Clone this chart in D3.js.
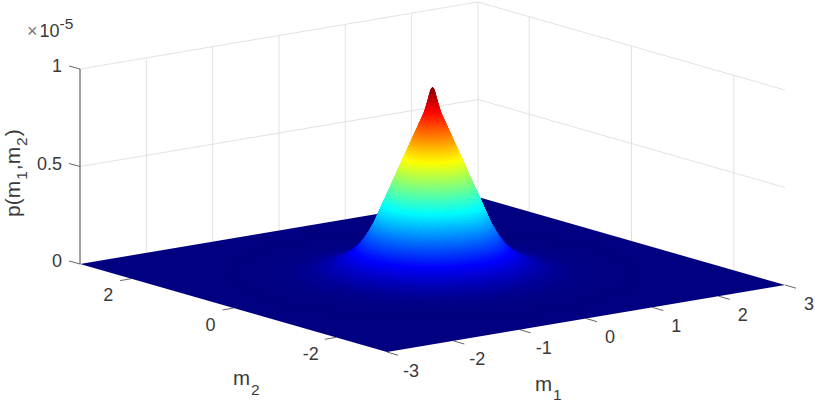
<!DOCTYPE html>
<html><head><meta charset="utf-8">
<script src="https://cdnjs.cloudflare.com/ajax/libs/d3/7.8.5/d3.min.js"></script>
<style>
html,body{margin:0;padding:0;background:#fff;overflow:hidden}
#wrap{position:relative;width:815px;height:402px}
svg,canvas{position:absolute;left:0;top:0}
text{font-family:"Liberation Sans",Arial,sans-serif;fill:#3a3a3a}
</style></head><body><div id="wrap"></div>
<script>
// Ticks
const m1Ticks = [-3,-2,-1,0,1,2,3];
const m2Ticks = [-2,0,2];
const zTicks = [0,0.5,1];
const zTickLabels = ["0","0.5","1"];
const m1Domain = [-3,3];
const m2Domain = [-3,3];
// The surface is a peak of revolution: height (in units of 1e-5) read off the
// silhouette and the colour bands at these distances from the origin.
const radii   = [0,0.02,0.035,0.06,0.094,0.16,0.228,0.338,0.467,0.58,0.692,0.75,0.806,0.86,0.92,0.985,1.08,1.2,1.35,1.5,1.7,2.0,2.5,4.5];
const heights = [0.96,0.95,0.925,0.885,0.835,0.772,0.708,0.604,0.481,0.374,0.267,0.222,0.185,0.155,0.128,0.103,0.075,0.05,0.03,0.017,0.008,0.002,0,0];
const jetStops = [0,0.125,0.375,0.625,0.875,1];
const jetColors = ["#000080","#0000ff","#00ffff","#ffff00","#ff0000","#800000"];

const W=815,H=402;
const origin=[387,352];
const sxM1=d3.scaleLinear().domain(m1Domain).range([0,398]);
const syM1=d3.scaleLinear().domain(m1Domain).range([0,-67]);
const sxM2=d3.scaleLinear().domain(m2Domain).range([0,-307]);
const syM2=d3.scaleLinear().domain(m2Domain).range([0,-88]);
const syZ=d3.scaleLinear().domain([0,1]).range([0,-195]);
const project=(a,b,z=0)=>[origin[0]+sxM1(a)+sxM2(b),origin[1]+syM1(a)+syM2(b)+syZ(z)];

const profile=d3.scaleLinear().domain(radii).range(heights).clamp(true);
const zMax=d3.max(heights);
const jet=d3.scaleLinear().domain(jetStops.map(s=>s*zMax)).range(jetColors).interpolate(d3.interpolateRgb).clamp(true);

const wrap=d3.select("#wrap");
const svg=wrap.append("svg").attr("width",W).attr("height",H);
const line=(g,p,q,stroke,w)=>g.append("line").attr("x1",p[0]).attr("y1",p[1]).attr("x2",q[0]).attr("y2",q[1]).attr("stroke",stroke).attr("stroke-width",w);

// Grid on the two back walls
const grid=svg.append("g");
const gridCol="#e2e2e2";
[-2,-1,0,1,2,3].forEach(a=>line(grid,project(a,3,0),project(a,3,1),gridCol,1));
m2Ticks.forEach(b=>line(grid,project(3,b,0),project(3,b,1),gridCol,1));
zTicks.filter(z=>z>0).forEach(z=>{
  line(grid,project(-3,3,z),project(3,3,z),gridCol,1);
  line(grid,project(3,3,z),project(3,-3,z),gridCol,1);
});

// Axes
const ax=svg.append("g");
const tickCol="#666";
line(ax,project(-3,3,0),project(-3,3,1),"#444",1);
zTicks.forEach((z,i)=>{
  const p=project(-3,3,z);
  line(ax,p,[p[0]-11,p[1]-3],tickCol,1);
  ax.append("text").attr("x",p[0]-18).attr("y",p[1]+3).attr("text-anchor","end").attr("font-size",18).text(zTickLabels[i]);
});
m1Ticks.forEach(a=>{
  const p=project(a,-3,0);
  line(ax,p,[p[0]+11,p[1]+3.2],tickCol,1);
  ax.append("text").attr("x",p[0]+24).attr("y",p[1]+24.5).attr("text-anchor","middle").attr("font-size",18).text(a);
});
m2Ticks.forEach(b=>{
  const p=project(-3,b,0);
  line(ax,p,[p[0]-11,p[1]+2],tickCol,1);
  ax.append("text").attr("x",p[0]-(b<0?25:23)).attr("y",p[1]+22.7).attr("text-anchor","middle").attr("font-size",18).text(b);
});

// Exponent note
const exp=ax.append("text").attr("x",27).attr("y",37).attr("font-size",18);
exp.append("tspan").attr("fill","#777").text("\u00d7");
exp.append("tspan").attr("dx",2).text("10");
exp.append("tspan").attr("font-size",15.5).attr("dy",-8).text("-5");

// Axis titles
const lab=(x,y,base,sub)=>{
  const t=ax.append("text").attr("x",x).attr("y",y).attr("font-size",20.5);
  t.append("tspan").text(base);
  t.append("tspan").attr("font-size",15.5).attr("dx",1).attr("dy",9.5).text(sub);
  return t;
};
lab(535,390.7,"m","1");
lab(233,385,"m","2");
const yl=ax.append("text").attr("transform","translate(20,217) rotate(-90)").attr("font-size",21);
yl.append("tspan").text("p(m");
yl.append("tspan").attr("font-size",15.5).attr("dx",1).attr("dy",6.5).text("1");
yl.append("tspan").attr("dx",1).attr("dy",-6.5).text(",m");
yl.append("tspan").attr("font-size",15.5).attr("dx",1).attr("dy",6.5).text("2");
yl.append("tspan").attr("dx",1).attr("dy",-6.5).text(")");

// Surface
const canvas=wrap.append("canvas").attr("width",W).attr("height",H).node();
const ctx=canvas.getContext("2d");
ctx.lineJoin="round";
// floor
ctx.fillStyle=jetColors[0];
ctx.beginPath();
[[-3,-3],[3,-3],[3,3],[-3,3]].forEach((c,i)=>{const p=project(c[0],c[1],0);i?ctx.lineTo(p[0],p[1]):ctx.moveTo(p[0],p[1]);});
ctx.closePath();ctx.fill();
// fine mesh around the peak, painted back to front
const step=0.015,lim=2.4;
const cells=[];
const ticks=d3.range(-lim,lim,step);
const viewA=-sxM2.range()[1],viewB=sxM1.range()[1]; // floor direction along which screen x is constant
const depth=(a,b)=>viewA*a+viewB*b;
const hgt=(a,b)=>profile(Math.hypot(a,b));
for(const a of ticks)for(const b of ticks){
  if(Math.hypot(a+step/2,b+step/2)>lim)continue;
  cells.push([a,b,depth(a,b)]);
}
cells.sort((p,q)=>q[2]-p[2]);
for(const [a,b] of cells){
  const z0=hgt(a,b),z1=hgt(a+step,b),z2=hgt(a+step,b+step),z3=hgt(a,b+step);
  const col=jet((z0+z1+z2+z3)/4);
  const p0=project(a,b,z0),p1=project(a+step,b,z1),p2=project(a+step,b+step,z2),p3=project(a,b+step,z3);
  ctx.fillStyle=col;ctx.strokeStyle=col;ctx.lineWidth=0.6;
  ctx.beginPath();ctx.moveTo(p0[0],p0[1]);ctx.lineTo(p1[0],p1[1]);ctx.lineTo(p2[0],p2[1]);ctx.lineTo(p3[0],p3[1]);ctx.closePath();
  ctx.fill();ctx.stroke();
}
</script></body></html>
